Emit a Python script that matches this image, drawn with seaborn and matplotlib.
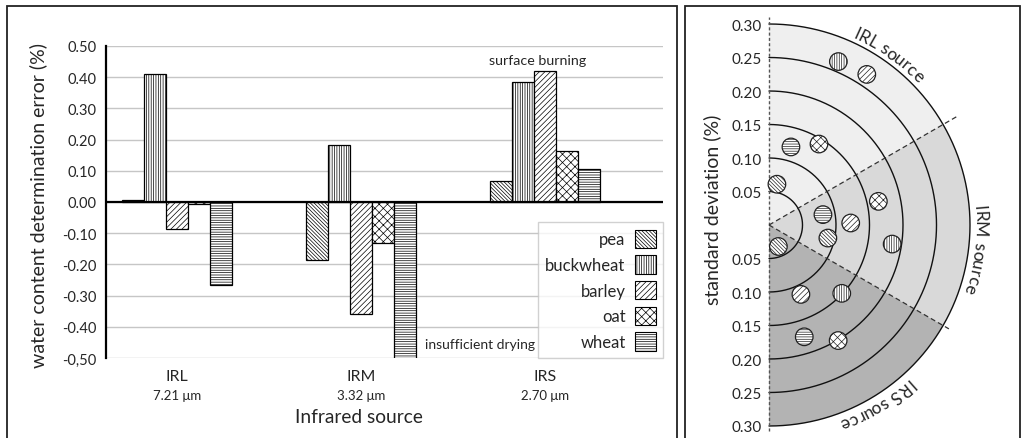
import numpy as np
import pandas as pd
import matplotlib
matplotlib.use("Agg")
import matplotlib.pyplot as plt
import seaborn as sns
from matplotlib.patches import Wedge, Rectangle, Patch
from matplotlib.font_manager import FontProperties, findfont
from matplotlib.ft2font import FT2Font

# ---------------- data ----------------
sources = ["IRL", "IRM", "IRS"]
wavelengths = ["7.21 \u03bcm", "3.32 \u03bcm", "2.70 \u03bcm"]
grains = ["pea", "buckwheat", "barley", "oat", "wheat"]

error_irl = [0.008, 0.410, -0.088, -0.008, -0.265]
error_irm = [-0.187, 0.182, -0.358, -0.132, -0.500]
error_irs = [0.066, 0.384, 0.420, 0.163, 0.106]

err_ticks = [0.50, 0.40, 0.30, 0.20, 0.10, 0.00, -0.10, -0.20, -0.30, -0.40, -0.50]
err_tick_labels = ["0.50", "0.40", "0.30", "0.20", "0.10", "0.00",
                   "-0.10", "-0.20", "-0.30", "-0.40", "-0,50"]

std_irl = [0.062, 0.265, 0.268, 0.142, 0.121]
std_irm = [0.090, 0.186, 0.122, 0.167, 0.082]
std_irs = [0.035, 0.149, 0.114, 0.201, 0.175]
# angular placement (deg) of each grain marker inside its source sector
angle_irl = [79.0, 67.0, 57.0, 58.3, 74.3]
angle_irm = [-12.5, -8.8, 1.4, 12.2, 10.9]
angle_irs = [-66.4, -43.2, -65.3, -59.1, -72.5]

std_rings = [0.05, 0.10, 0.15, 0.20, 0.25, 0.30]
std_tick_values = [0.30, 0.25, 0.20, 0.15, 0.10, 0.05, -0.05, -0.10, -0.15, -0.20, -0.25, -0.30]
std_tick_labels = ["0.30", "0.25", "0.20", "0.15", "0.10", "0.05",
                   "0.05", "0.10", "0.15", "0.20", "0.25", "0.30"]
sector_names = ["IRL source", "IRM source", "IRS source"]
sector_bounds = [(30, 90), (-30, 30), (-90, -30)]

# ---------------- style ----------------
sns.set_style("white")
FONT = ["Lato", "DejaVu Sans"]
plt.rcParams["font.family"] = FONT
plt.rcParams["hatch.linewidth"] = 0.5
plt.rcParams["hatch.color"] = "#3a3a3a"

hatches = ["\\" * 9, "|" * 7, "/" * 6, "x" * 4, "-" * 7]
sector_colors = ["#efefef", "#d9d9d9", "#b3b3b3"]

W, H = 1023, 439
fig = plt.figure(figsize=(W / 100, H / 100), dpi=100)
fig.patch.set_facecolor("white")


def px_rect(x0, y0, x1, y1):
    return [x0 / W, 1 - y1 / H, (x1 - x0) / W, (y1 - y0) / H]


# ---------------- left panel: bar chart ----------------
ax1 = fig.add_axes(px_rect(106, 47, 663, 359))
df = pd.DataFrame({
    "source": np.repeat(sources, len(grains)),
    "grain": grains * len(sources),
    "error": error_irl + error_irm + error_irs,
})
sns.barplot(data=df, x="source", y="error", hue="grain", order=sources,
            hue_order=grains, palette=["white"] * len(grains), saturation=1,
            edgecolor="black", linewidth=0.9, width=0.6, errorbar=None,
            legend=False, ax=ax1, zorder=2)
for cont, h in zip(ax1.containers, hatches):
    for bar in cont:
        bar.set_hatch(h)

ax1.set_ylim(-0.5, 0.5)
ax1.set_xlim(-0.386, 2.641)
ax1.set_yticks(err_ticks)
ax1.set_yticklabels(err_tick_labels)
ax1.yaxis.grid(True, color="#c6c6c6", lw=1.0)
ax1.set_axisbelow(True)
ax1.axhline(0, color="black", lw=1.6, zorder=3)
for s in ["top", "right", "bottom"]:
    ax1.spines[s].set_visible(False)
ax1.spines["left"].set_color("black")
ax1.spines["left"].set_linewidth(1.6)
ax1.tick_params(axis="y", direction="out", length=4, width=1.2, color="black",
                labelsize=10.5, pad=3)
ax1.tick_params(axis="x", direction="out", length=5, width=1, color="#9a9a9a",
                labelsize=11.5, pad=3)
ax1.set_xlabel("")
ax1.set_ylabel("")
for i, wl in enumerate(wavelengths):
    ax1.text(i, -0.118, wl, transform=ax1.get_xaxis_transform(),
             ha="center", va="center", fontsize=9.5, family=FONT)

ax1.text(1.957, 0.455, "surface burning", ha="center", va="center", fontsize=10.3)
ax1.text(1.645, -0.455, "insufficient drying", ha="center", va="center", fontsize=10)

handles = [Patch(facecolor="white", edgecolor="black", lw=0.8, hatch=h, label=g)
           for g, h in zip(grains, hatches)]
leg = ax1.legend(handles=handles, loc="lower right", bbox_to_anchor=(1, 0),
                 borderaxespad=0, markerfirst=False, frameon=True, fancybox=False,
                 edgecolor="#c6c6c6", fontsize=12, handlelength=1.25,
                 handleheight=1.3, labelspacing=0.45, borderpad=0.45,
                 handletextpad=0.55)
leg.get_frame().set_linewidth(1.0)
leg.set_zorder(5)

fig.text(359 / W, 1 - 418 / H, "Infrared source", ha="center", va="center",
         fontsize=13.8)
fig.text(38 / W, 1 - 206 / H, "water content determination error (%)",
         rotation=90, ha="center", va="center", fontsize=14)

# ---------------- right panel: sector diagram ----------------
S = 670.0          # pixels per data unit
cx, cy = 769, 226  # pixel centre of the diagram
xmin, xmax = 0.0, 0.37
ymin, ymax = -0.313, 0.322
ax2 = fig.add_axes(px_rect(cx + xmin * S, cy - ymax * S, cx + xmax * S, cy - ymin * S))
ax2.set_xlim(xmin, xmax)
ax2.set_ylim(ymin, ymax)
for s in ax2.spines.values():
    s.set_visible(False)
ax2.set_xticks([])
ax2.set_yticks(std_tick_values)
ax2.set_yticklabels(std_tick_labels)
ax2.tick_params(axis="y", direction="out", length=4, width=0.9, color="#333333",
                labelsize=11, pad=1.5)
ax2.set_facecolor("none")

for (t1, t2), col in zip(sector_bounds, sector_colors):
    ax2.add_patch(Wedge((0, 0), max(std_rings), t1, t2, facecolor=col,
                        edgecolor="none", zorder=1))
tt = np.radians(np.linspace(-90, 90, 361))
for r in std_rings:
    ax2.plot(r * np.cos(tt), r * np.sin(tt), color="#111111", lw=1.0, zorder=2,
             clip_on=False)
ax2.plot([0, 0], [-0.308, 0.311], color="#555555", lw=1.0, ls=(0, (2.2, 1.6)),
         zorder=3, clip_on=False)
for ang, rr in [(30, 0.325), (-30, 0.31)]:
    a = np.radians(ang)
    ax2.plot([0, rr * np.cos(a)], [0, rr * np.sin(a)], color="#333333", lw=0.9,
             ls=(0, (4, 2.5)), zorder=3, clip_on=False)

std_all = [std_irl, std_irm, std_irs]
ang_all = [angle_irl, angle_irm, angle_irs]
for gi, (g, h) in enumerate(zip(grains, hatches)):
    rs = np.array([std_all[k][gi] for k in range(3)])
    th = np.radians([ang_all[k][gi] for k in range(3)])
    sns.scatterplot(x=rs * np.cos(th), y=rs * np.sin(th), s=160, marker="o",
                    color="white", edgecolor="#222222", linewidth=0.9,
                    hatch=h, ax=ax2, zorder=5, clip_on=False, legend=False)


def curved_text(ax, s, r, theta_c, size):
    fp = FontProperties(family=FONT, size=size)
    font = FT2Font(findfont(fp))
    font.set_size(size, 72)
    adv = []
    for ch in s:
        g = font.load_char(ord(ch))
        adv.append(g.linearHoriAdvance / 65536.0 * 100 / 72 / S)
    total = sum(adv)
    start = np.radians(theta_c) + total / r / 2
    cum = 0.0
    for ch, w in zip(s, adv):
        th = start - (cum + w / 2) / r
        cum += w
        if ch == " ":
            continue
        ax.text(r * np.cos(th), r * np.sin(th), ch, rotation=np.degrees(th) - 90,
                rotation_mode="anchor", ha="center", va="baseline",
                fontsize=size, clip_on=False, zorder=6)


for name, ac in zip(sector_names, [55.0, -6.5, -59.0]):
    curved_text(ax2, name, 0.307, ac, 12.5)

fig.text(712 / W, 1 - 210 / H, "standard deviation (%)", rotation=90,
         ha="center", va="center", fontsize=14)

# ---------------- panel frames ----------------
for x0, x1 in [(7, 677), (685, 1020)]:
    fig.patches.append(Rectangle((x0 / W, -0.02), (x1 - x0) / W, 1.02 - 7 / H,
                                 transform=fig.transFigure, fill=False,
                                 edgecolor="#222222", lw=1.3))

fig.savefig("out.png", dpi=100, facecolor="white")
